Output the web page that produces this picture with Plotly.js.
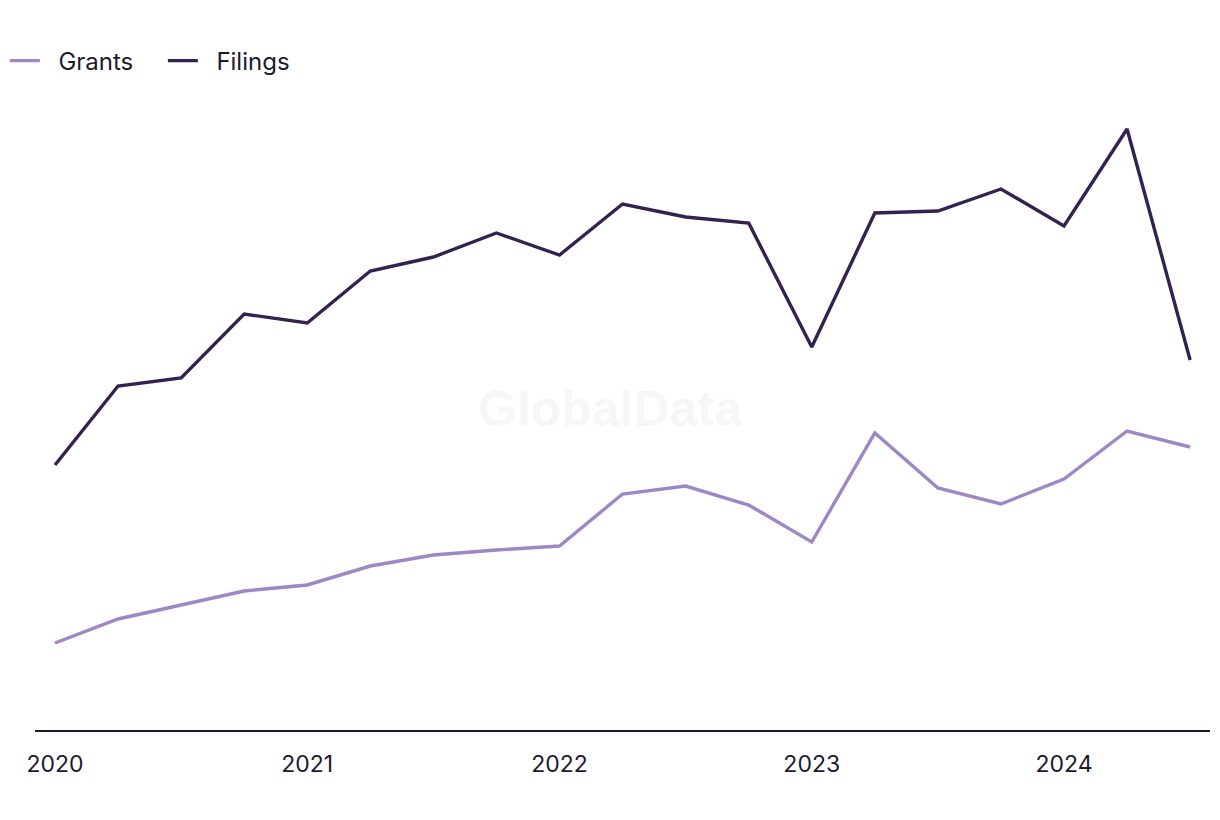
<!DOCTYPE html>
<html>
<head>
<meta charset="utf-8">
<script src="https://cdn.plot.ly/plotly-3.0.1.min.js"></script>
<style>html,body{margin:0;padding:0;background:#fff;}#chart{width:1220px;height:820px;}</style>
</head>
<body>
<div id="chart"></div>
<script>
const quarters = ["2020-Q1","2020-Q2","2020-Q3","2020-Q4","2021-Q1","2021-Q2","2021-Q3","2021-Q4","2022-Q1","2022-Q2","2022-Q3","2022-Q4","2023-Q1","2023-Q2","2023-Q3","2023-Q4","2024-Q1","2024-Q2","2024-Q3"];
const filings = [265,344,352,416,407,459,473,497,475,526,513,507,383,517,519,541,504,601,370];
const grants = [87,111,125,139,145,164,175,180,184,236,244,225,188,297,242,226,251,299,283];
const tickVals = [2020,2021,2022,2023,2024];
const tickText = ["2020","2021","2022","2023","2024"];

const xs = quarters.map(q => { const [y, qq] = q.split("-Q"); return +y + (+qq - 1) / 4; });

const font = "Inter, 'Liberation Sans', sans-serif";
const traces = [
  {x: xs, y: grants, name: "\u00a0\u00a0Grants", type: "scatter", mode: "lines", line: {color: "#9d87c5", width: 3.4}},
  {x: xs, y: filings, name: "\u00a0\u00a0Filings", type: "scatter", mode: "lines", line: {color: "#33214f", width: 3.4}}
];
const layout = {
  width: 1220, height: 820,
  margin: {l: 35, r: 10, t: 100, b: 90},
  paper_bgcolor: "#fff", plot_bgcolor: "#fff",
  font: {family: font, color: "#1c1a2e", size: 22},
  showlegend: true,
  legend: {orientation: "h", xref: "container", yref: "container", x: 0.004, xanchor: "left", y: 1 - 61/820, yanchor: "middle",
           font: {size: 24, color: "#1c1a2e"}, entrywidth: 113, entrywidthmode: "pixels"},
  xaxis: {range: [2019.9207, 2024.5788], tickvals: tickVals, ticktext: tickText, showgrid: false, zeroline: false,
          showline: true, linecolor: "#1c1a2e", linewidth: 2, ticks: "", ticklabelstandoff: 12, tickfont: {size: 23, color: "#1c1a2e"}, fixedrange: true},
  yaxis: {range: [0, 630], visible: false, showgrid: false, zeroline: false, fixedrange: true},
  annotations: [{text: "<b>GlobalData</b>", xref: "paper", yref: "paper", x: 0.49, y: 0.51, showarrow: false,
                 font: {size: 50, color: "#f6f6f6", family: "'Liberation Sans', Arial, sans-serif"}}]
};
Plotly.newPlot("chart", traces, layout, {displayModeBar: false, staticPlot: true});
</script>
</body>
</html>
